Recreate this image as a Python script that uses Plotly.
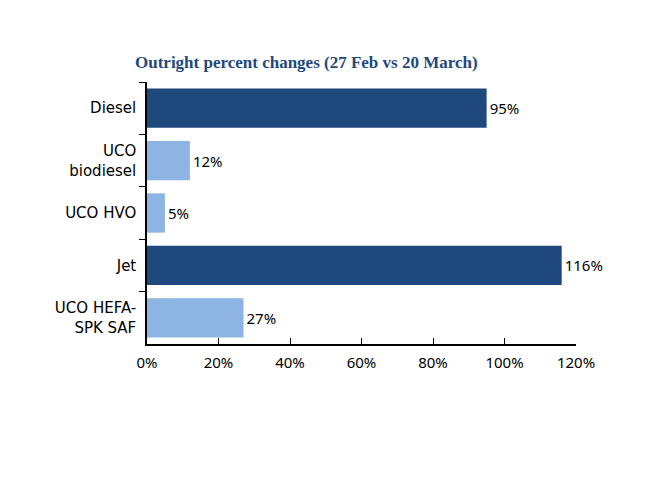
import plotly.graph_objects as go

categories = ["Diesel", "UCO<br>biodiesel", "UCO HVO", "Jet", "UCO HEFA-<br>SPK SAF"]
values = [95, 12, 5, 116, 27]
labels = ["95%", "12%", "5%", "116%", "27%"]
colors = ["#1F497D", "#8DB4E2", "#8DB4E2", "#1F497D", "#8DB4E2"]
x_ticks = [0, 20, 40, 60, 80, 100, 120]
x_tick_labels = ["0%", "20%", "40%", "60%", "80%", "100%", "120%"]

FONT = "Noto Sans"

fig = go.Figure(go.Bar(
    y=categories, x=values, orientation="h",
    marker=dict(color=colors, line=dict(width=0)),
    text=labels, textposition="outside", cliponaxis=False,
    textfont=dict(family=FONT, size=15, color="#000000"),
    width=0.75,
))

fig.update_layout(
    width=648, height=500,
    margin=dict(l=139, r=80, t=74, b=164),
    paper_bgcolor="white", plot_bgcolor="white",
    showlegend=False,
    title=dict(text="<b>Outright percent changes (27 Feb vs 20 March)</b>",
               x=127/648, xanchor="left", y=1-54/500, yanchor="middle",
               font=dict(family="Liberation Serif", size=17, color="#1F497D")),
    xaxis=dict(range=[0, 120], tickvals=x_ticks, ticktext=x_tick_labels,
               showgrid=False, zeroline=False, showline=True, linecolor="#000000", linewidth=1.5,
               ticks="inside", ticklen=6, tickcolor="#000000", ticklabelstandoff=4,
               tickfont=dict(family=FONT, size=15, color="#000000")),
    yaxis=dict(autorange="reversed", categoryorder="array", categoryarray=categories,
               showgrid=False, showline=True, linecolor="#000000", linewidth=1.5,
               ticks="outside", ticklen=6, tickson="boundaries", tickcolor="#000000",
               ticklabelstandoff=6,
               tickfont=dict(family="DejaVu Sans", size=15, color="#000000")),
)

fig.write_html("out.html")
